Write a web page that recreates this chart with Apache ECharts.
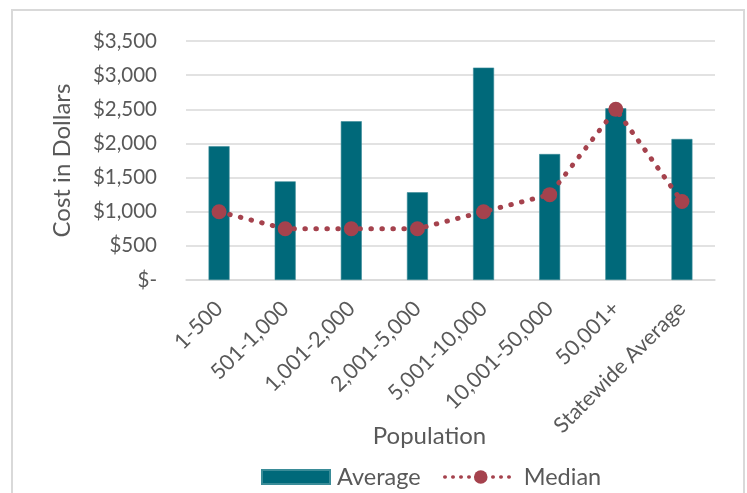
<!DOCTYPE html>
<html>
<head>
<meta charset="utf-8">
<script src="https://cdn.jsdelivr.net/npm/echarts@6/dist/echarts.min.js"></script>
<style>
  html, body { margin: 0; padding: 0; background: #fff; }
  #chart { width: 747px; height: 493px; }
</style>
</head>
<body>
<div id="chart"></div>
<script>
// Population groups and cost figures
const categories = ['1-500', '501-1,000', '1,001-2,000', '2,001-5,000', '5,001-10,000', '10,001-50,000', '50,001+', 'Statewide Average'];
const averageCost = [1960, 1445, 2325, 1285, 3110, 1845, 2515, 2065];
const medianCost = [1000, 750, 750, 750, 1000, 1250, 2500, 1150];
const yTicks = { min: 0, max: 3500, interval: 500 };

const FONT = 'Lato, "Open Sans", sans-serif';
const TEXT = '#595959';
const BAR = '#00697a';
const MEDIAN = '#a5424d';

function dollars(v) {
  if (v === 0) return '$-';
  return '$' + v.toLocaleString('en-US');
}

const chart = echarts.init(document.getElementById('chart'), null, { renderer: 'canvas' });
chart.setOption({
  animation: false,
  textStyle: { fontFamily: FONT },
  graphic: [{
    type: 'rect',
    shape: { x: 12, y: 10, width: 732, height: 500 },
    style: { fill: 'none', stroke: '#d9d9d9', lineWidth: 2 },
    silent: true
  }],
  grid: { left: 186, right: 32, top: 41, bottom: 213, containLabel: false },
  xAxis: {
    type: 'category',
    data: categories,
    name: 'Population',
    nameLocation: 'middle',
    nameGap: 144,
    nameMoveOverlap: false,
    nameTextStyle: { fontSize: 24, color: TEXT, fontFamily: FONT, padding: [0, 42, 0, 0] },
    axisLine: { show: true, lineStyle: { color: '#d9d9d9', width: 1.5 } },
    axisTick: { show: false },
    axisLabel: { rotate: 45, fontSize: 21.5, color: TEXT, margin: 25, interval: 0, fontFamily: FONT }
  },
  yAxis: {
    type: 'value',
    min: yTicks.min,
    max: yTicks.max,
    interval: yTicks.interval,
    name: 'Cost in Dollars',
    nameLocation: 'middle',
    nameGap: 112,
    nameMoveOverlap: false,
    nameTextStyle: { fontSize: 24, color: TEXT, fontFamily: FONT },
    axisLine: { show: false },
    axisTick: { show: false },
    axisLabel: { fontSize: 20.5, color: TEXT, margin: 29, formatter: dollars, fontFamily: FONT },
    splitLine: { lineStyle: { color: '#d9d9d9', width: 1.5 } }
  },
  legend: [
    {
      left: 261,
      top: 465,
      padding: 0,
      itemWidth: 68,
      itemHeight: 14,
      textStyle: { fontSize: 23.5, color: TEXT, fontFamily: FONT, padding: [0, 0, 0, 2] },
      data: [{ name: 'Average', icon: 'rect' }]
    },
    {
      left: 443,
      top: 465,
      padding: 0,
      itemWidth: 72,
      itemHeight: 17,
      lineStyle: { width: 3.5, type: [0.5, 7.5], cap: 'round' },
      textStyle: { fontSize: 23.5, color: TEXT, fontFamily: FONT, padding: [0, 0, 0, 2] },
      data: [{ name: 'Median' }]
    }
  ],
  series: [
    {
      name: 'Average',
      type: 'bar',
      data: averageCost,
      barWidth: 21,
      itemStyle: { color: BAR, borderColor: '#3a8c98', borderWidth: 0.6 }
    },
    {
      name: 'Median',
      type: 'line',
      data: medianCost,
      symbol: 'circle',
      symbolSize: 15,
      itemStyle: { color: MEDIAN },
      lineStyle: { color: MEDIAN, width: 5, type: [0.5, 10.5], cap: 'round' },
      z: 5
    }
  ]
});
</script>
</body>
</html>
